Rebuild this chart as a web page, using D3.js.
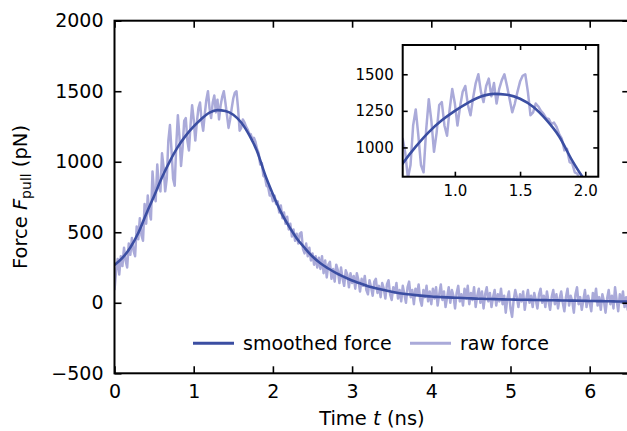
<!DOCTYPE html>
<html>
<head>
<meta charset="utf-8">
<script src="https://cdn.jsdelivr.net/npm/d3@7"></script>
<style>
  body { margin: 0; background: #fff; }
  svg { display: block; font-family: "DejaVu Sans", sans-serif; }
</style>
</head>
<body>
<div id="chart-area"></div>
<script>
// smoothed force, sampled every 0.1 ns from 0 to 6.5 ns
var smoothTime = d3.range(0, 66).map(i => +(i * 0.1).toFixed(2));
var smoothForce = [
    268, 318, 392, 495, 630, 757, 890, 1005, 1105, 1185,
    1250, 1305, 1348, 1366, 1360, 1333, 1278, 1190, 1075, 910,
    770, 645, 545, 458, 390, 328, 280, 243, 210, 183,
    158, 138, 118, 103, 90, 78, 68, 60, 54, 49,
    44, 41, 38, 36, 34, 31, 29, 27, 26, 24,
    23, 22, 21, 20, 19, 18, 17, 16, 15, 14,
    13, 12, 11, 10, 9, 8
];

// raw force, sampled every 0.02 ns from 0 to 6.5 ns
var rawTime = d3.range(0, 326).map(i => +(i * 0.02).toFixed(2));
var rawForce = [
    90, 230, 310, 200, 330, 260, 390, 300, 250, 420,
    340, 460, 370, 330, 540, 450, 600, 480, 440, 700,
    560, 760, 640, 590, 930, 780, 720, 980, 820, 790,
    1060, 960, 790, 880, 1150, 1260, 1080, 880, 830, 1120,
    1330, 1180, 970, 1100, 1290, 1310, 1150, 1080, 1260, 1400,
    1300, 1150, 1280, 1380, 1420, 1290, 1220, 1340, 1440, 1500,
    1380, 1310, 1420, 1470, 1350, 1440, 1300, 1400, 1460, 1500,
    1420, 1330, 1240, 1300, 1380, 1450, 1490, 1500, 1380, 1220,
    1240, 1300, 1280, 1250, 1230, 1200, 1195, 1160, 1170, 1140,
    1090, 1060, 980, 990, 900, 890, 830, 820, 760, 770,
    720, 760, 700, 720, 640, 690, 600, 640, 560, 610,
    520, 560, 470, 520, 440, 490, 420, 490, 500, 380,
    350, 420, 330, 390, 300, 350, 270, 330, 250, 320,
    240,
    330, 210, 300, 180, 270, 290, 170, 240, 150, 270,
    230, 140, 250, 170, 120, 230, 200, 110, 210, 140,
    190, 100, 210, 160, 80, 170, 120, 190, 90, 60,
    160, 110, 50, 150, 170, 70, 120, 40, 140, 100,
    30, 130, 160, 60, 20, 110, 70, 140, 30, 90,
    10, 120, 60, 0, 110, 150, 40, 90, -10, 100,
    60, 130, 20, -20, 90, 40, 120, 10, 80, -10,
    100, 30, 110, -20, 60, 130, 20, 80, -30, 40,
    110, 0, 90, 50, -40, 70, 120, 10, 60, -20,
    100, 30, 120, -10, 70, 20, 110, -30, 50, 100,
    0, 80, -40, 60, 110, 10, 70, -30, 40, 90,
    -20, 60, 10, 100, -10, 50, -70, 30, 80, -40,
    -100, 20, 90, 40, -30, 60, 10, 80, -50, 30,
    90, 0, 50, -30, 70, 20, -40, 60, 100, 0,
    50, -30, 80, 10, -50, 40, 90, -10, 60, -40,
    30, 80, 0, -60, 40, 100, -20, 50, 10, -70,
    60, 110, -10, 40, -50, 20, 90, -30, 50, 0,
    -60, 70, 20, 100, -20, 40, -50, 60, 10, -70,
    30, 90, -10, 50, -40, 110, 20, -60, 60, 0,
    80, -30, 40, -50, 30
];

var xTicks = [0, 1, 2, 3, 4, 5, 6];
var yTicks = [-500, 0, 500, 1000, 1500, 2000];
var insetXTicks = [1.0, 1.5, 2.0];
var insetYTicks = [1000, 1250, 1500];

var smoothData = smoothTime.map((t, i) => ({ t: t, f: smoothForce[i] }));
var rawData = rawTime.map((t, i) => ({ t: t, f: rawForce[i] }));

var smoothColor = "#3b4ea2",
    rawColor = "#aaaad9";

var margin = { top: 20.7, right: 0, bottom: 57.7, left: 114.5 },
    width = 514.8,
    height = 352.6;

var svg = d3.select("#chart-area")
    .append("svg")
    .attr("width", 627)
    .attr("height", 431);

var g = svg.append("g")
    .attr("transform", "translate(" + margin.left + "," + margin.top + ")");

var x = d3.scaleLinear().domain([0, 6.5]).range([0, width]);
var y = d3.scaleLinear().domain([-500, 2000]).range([height, 0]);

g.append("clipPath").attr("id", "clip-main")
    .append("rect").attr("width", width).attr("height", height);

var line = d3.line()
    .x(d => x(d.t))
    .y(d => y(d.f));

var plot = g.append("g").attr("clip-path", "url(#clip-main)");

plot.append("path")
    .datum(rawData)
    .attr("fill", "none")
    .attr("stroke", rawColor)
    .attr("stroke-width", 2.5)
    .attr("stroke-linejoin", "round")
    .attr("d", line);

plot.append("path")
    .datum(smoothData)
    .attr("fill", "none")
    .attr("stroke", smoothColor)
    .attr("stroke-width", 2.6)
    .attr("d", line.curve(d3.curveMonotoneX));
line.curve(d3.curveLinear);

// axes, ticks pointing inward on all four sides
function styleAxis(sel, size) {
    sel.select(".domain").remove();
    sel.selectAll(".tick line").attr("stroke", "#000").attr("stroke-width", 1.6);
    sel.selectAll("text")
        .attr("fill", "#000")
        .style("font-family", "'DejaVu Sans', sans-serif")
        .style("font-size", size + "px");
}

g.append("g")
    .attr("transform", "translate(0," + height + ")")
    .call(d3.axisBottom(x).tickValues(xTicks).tickSize(-7).tickPadding(11).tickFormat(d3.format("d")))
    .call(s => styleAxis(s, 19));

g.append("g")
    .call(d3.axisTop(x).tickValues(xTicks).tickSize(-7).tickFormat(""))
    .call(s => styleAxis(s, 19));

g.append("g")
    .call(d3.axisLeft(y).tickValues(yTicks).tickSize(-7).tickPadding(11).tickFormat(d3.format("d")))
    .call(s => styleAxis(s, 19));

g.append("g")
    .attr("transform", "translate(" + width + ",0)")
    .call(d3.axisRight(y).tickValues(yTicks).tickSize(-7).tickFormat(""))
    .call(s => styleAxis(s, 19));

g.append("rect")
    .attr("width", width)
    .attr("height", height)
    .attr("fill", "none")
    .attr("stroke", "#000")
    .attr("stroke-width", 2);

// axis labels
var xl = g.append("text")
    .attr("x", width / 2)
    .attr("y", height + 52)
    .attr("text-anchor", "middle")
    .style("font-size", "19.5px");
xl.append("tspan").text("Time ");
xl.append("tspan").style("font-style", "italic").text("t");
xl.append("tspan").text(" (ns)");

var yl = g.append("text")
    .attr("transform", "translate(-88," + (height / 2) + ") rotate(-90)")
    .attr("text-anchor", "middle")
    .style("font-size", "19.5px");
yl.append("tspan").text("Force ");
yl.append("tspan").style("font-style", "italic").text("F");
yl.append("tspan").attr("dy", 4).style("font-size", "14px").text("pull");
yl.append("tspan").attr("dy", -4).text(" (pN)");

// legend
var legend = g.append("g").attr("transform", "translate(0," + (height - 30) + ")");
var legendItems = [
    { label: "smoothed force", color: smoothColor, w: 2.6, x0: 78.5 },
    { label: "raw force", color: rawColor, w: 2.5, x0: 295.5 }
];
legendItems.forEach(d => {
    legend.append("line")
        .attr("x1", d.x0).attr("x2", d.x0 + 41)
        .attr("y1", 0).attr("y2", 0)
        .attr("stroke", d.color)
        .attr("stroke-width", d.w + 0.4);
    legend.append("text")
        .attr("x", d.x0 + 50)
        .attr("y", 0)
        .attr("dy", "0.35em")
        .style("font-size", "19px")
        .text(d.label);
});

// inset
var inset = { left: 402.7, top: 45, width: 195.6, height: 131.7 };
var gi = svg.append("g")
    .attr("transform", "translate(" + inset.left + "," + inset.top + ")");

var xi = d3.scaleLinear().domain([0.6, 2.1]).range([0, inset.width]);
var yi = d3.scaleLinear().domain([800, 1700]).range([inset.height, 0]);

gi.append("rect")
    .attr("x", -8).attr("y", -8)
    .attr("width", inset.width + 16).attr("height", inset.height + 8)
    .attr("fill", "#fff");

gi.append("clipPath").attr("id", "clip-inset")
    .append("rect").attr("width", inset.width).attr("height", inset.height);

var lineInset = d3.line()
    .x(d => xi(d.t))
    .y(d => yi(d.f));

var iplot = gi.append("g").attr("clip-path", "url(#clip-inset)");

iplot.append("path")
    .datum(rawData)
    .attr("fill", "none")
    .attr("stroke", rawColor)
    .attr("stroke-width", 2.5)
    .attr("stroke-linejoin", "round")
    .attr("d", lineInset);

iplot.append("path")
    .datum(smoothData)
    .attr("fill", "none")
    .attr("stroke", smoothColor)
    .attr("stroke-width", 2.6)
    .attr("d", lineInset.curve(d3.curveMonotoneX));

gi.append("g")
    .attr("transform", "translate(0," + inset.height + ")")
    .call(d3.axisBottom(xi).tickValues(insetXTicks).tickSize(-5).tickPadding(9).tickFormat(d3.format(".1f")))
    .call(s => styleAxis(s, 15));

gi.append("g")
    .call(d3.axisTop(xi).tickValues(insetXTicks).tickSize(-5).tickFormat(""))
    .call(s => styleAxis(s, 15));

gi.append("g")
    .call(d3.axisLeft(yi).tickValues(insetYTicks).tickSize(-5).tickPadding(9).tickFormat(d3.format("d")))
    .call(s => styleAxis(s, 15));

gi.append("g")
    .attr("transform", "translate(" + inset.width + ",0)")
    .call(d3.axisRight(yi).tickValues(insetYTicks).tickSize(-5).tickFormat(""))
    .call(s => styleAxis(s, 15));

gi.append("rect")
    .attr("width", inset.width)
    .attr("height", inset.height)
    .attr("fill", "none")
    .attr("stroke", "#000")
    .attr("stroke-width", 2);
</script>
</body>
</html>
